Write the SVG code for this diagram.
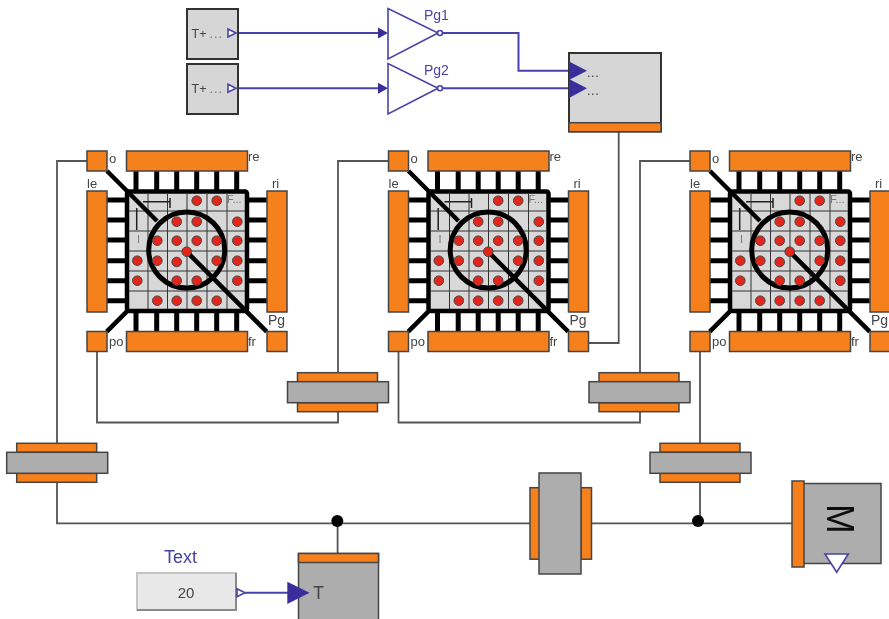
<svg xmlns="http://www.w3.org/2000/svg" width="889" height="619" viewBox="0 0 889 619">
<style>
text{font-family:"Liberation Sans",Arial,sans-serif}
.or{fill:#f5801e;stroke:#444;stroke-width:1.5}
.gr{fill:#adadad;stroke:#444;stroke-width:1.5}
.lg{fill:#d6d6d6;stroke:#333;stroke-width:2}
.pin{stroke:#000;stroke-width:5;fill:none}
.wire{fill:none;stroke:#555;stroke-width:1.8}
.sig{fill:none;stroke:#4a42a8;stroke-width:2}
.amp{fill:#fff;stroke:#4a42a8;stroke-width:1.6}
.solid{fill:#3a2f9a;stroke:none}
.port{fill:#fff;stroke:#4a42a8;stroke-width:1.6}
.lab{font-size:13px;fill:#444}
.blue{fill:#4a42a8}
.dk{fill:#444}
.dot{fill:#e3281f;stroke:#444;stroke-width:1;r:4.800px}
</style>
<defs>
<filter id="soft" x="0" y="0" width="100%" height="100%"><feGaussianBlur stdDeviation="0.45"/></filter>
<g id="chip">
<path class="pin" d="M136 171V191M156.700 171V191M176.700 171V191M196.700 171V191M216.700 171V191M236.700 171V191M136 312V332M156.700 312V332M176.700 312V332M196.700 312V332M216.700 312V332M236.700 312V332M107 200H127M107 220H127M107 240H127M107 260.700H127M107 280.700H127M107 300.700H127M247 200H267M247 220H267M247 240H267M247 260.700H267M247 280.700H267M247 300.700H267"/>
<rect x="127" y="191.500" width="120" height="119.500" rx="2" fill="#d8d8d8" stroke="#000" stroke-width="4.500"/>
<path d="M148 193V309M167.500 193V309M187 193V309M207 193V309M227 193V309M129 211H245M129 231H245M129 251H245M129 271H245M129 291H245" fill="none" stroke="#333" stroke-width="1"/>
<path d="M143 201.700H170M170 198V208M136.700 208V230" fill="none" stroke="#222" stroke-width="1.500"/>
<circle cx="186.700" cy="250" r="38" fill="none" stroke="#000" stroke-width="5"/>
<path d="M107 171L157 221M186.700 251.700L266.700 331.700M126.700 311.700L106.700 331.700" fill="none" stroke="#000" stroke-width="4.500"/>
<g class="dots">
<circle class="dot" cx="196.700" cy="200.700"/><circle class="dot" cx="216.700" cy="200.700"/>
<circle class="dot" cx="176.700" cy="221.700"/><circle class="dot" cx="196.700" cy="221.700"/><circle class="dot" cx="237.300" cy="221.700"/>
<circle class="dot" cx="157.300" cy="240.700"/><circle class="dot" cx="176.700" cy="240.700"/><circle class="dot" cx="196.700" cy="240.700"/><circle class="dot" cx="216.700" cy="240.700"/><circle class="dot" cx="237.300" cy="240.700"/>
<circle class="dot" cx="137.300" cy="260.700"/><circle class="dot" cx="157.300" cy="260.700"/><circle class="dot" cx="176.700" cy="262"/><circle class="dot" cx="216.700" cy="260.700"/><circle class="dot" cx="237.300" cy="260.700"/>
<circle class="dot" cx="137.300" cy="280.700"/><circle class="dot" cx="176.700" cy="280.700"/><circle class="dot" cx="196.700" cy="280.700"/><circle class="dot" cx="237.300" cy="280.700"/>
<circle class="dot" cx="157.300" cy="300.700"/><circle class="dot" cx="176.700" cy="300.700"/><circle class="dot" cx="196.700" cy="300.700"/><circle class="dot" cx="216.700" cy="300.700"/>
<circle class="dot" cx="186.700" cy="251.700"/>
</g>
<rect class="or" x="87" y="151" width="20" height="20"/>
<rect class="or" x="126.500" y="151" width="121" height="20"/>
<rect class="or" x="87" y="191" width="20" height="121"/>
<rect class="or" x="267" y="191" width="20" height="121"/>
<rect class="or" x="87" y="331.500" width="20" height="20"/>
<rect class="or" x="126.500" y="331.500" width="121" height="20"/>
<rect class="or" x="267" y="331.500" width="20" height="20"/>
</g>
<g id="coupling">
<rect class="or" x="10" y="0" width="80" height="9"/>
<rect class="or" x="10" y="30" width="80" height="9"/>
<rect class="gr" x="0" y="9" width="101" height="21"/>
</g>
</defs>
<g filter="url(#soft)">
<rect x="0" y="0" width="889" height="619" fill="#fff"/>
<g id="connectors">
<path class="wire" d="M87 161H57V523.300H792"/>
<path class="wire" d="M388.500 161H338V373M338 411.700V422.500H97V352"/>
<path class="wire" d="M690.500 161H640V373M640 411.700V422.500H398.500V352"/>
<path class="wire" d="M700 352V443M700 482V523"/>
<path class="wire" d="M337.600 521V553"/>
<path class="wire" d="M618.700 132V343H589"/>
<path class="sig" d="M236 33H380"/>
<path class="sig" d="M236 88.300H380"/>
<path class="sig" d="M441 33H518.500V70.700H572"/>
<path class="sig" d="M441 88.300H572"/>
<path class="sig" d="M245 592.700H290"/>
<path class="solid" d="M378 27.500L388 33L378 38.500Z"/>
<path class="solid" d="M378 82.800L388 88.300L378 93.800Z"/>
<circle cx="337.300" cy="521" r="6" fill="#000"/>
<circle cx="698" cy="521" r="6" fill="#000"/>
</g>

<g id="source1">
<rect class="lg" x="187" y="9" width="51" height="50"/>
<text x="191.500" y="38" font-size="12.500" class="dk">T+<tspan dx="3" letter-spacing="1" fill="#777">...</tspan></text>
<path class="port" d="M228 29L236 33L228 37Z"/>
</g>
<g id="source2">
<rect class="lg" x="187" y="64" width="51" height="50"/>
<text x="191.500" y="93" font-size="12.500" class="dk">T+<tspan dx="3" letter-spacing="1" fill="#777">...</tspan></text>
<path class="port" d="M228 84.300L236 88.300L228 92.300Z"/>
</g>
<g id="gain1">
<path class="amp" d="M388 8.500V59L438 33Z"/>
<circle class="port" cx="440" cy="33" r="2.500"/>
<text x="424" y="20" font-size="14" class="blue">Pg1</text>
</g>
<g id="gain2">
<path class="amp" d="M388 63.500V114L438 88.300Z"/>
<circle class="port" cx="440" cy="88.300" r="2.500"/>
<text x="424" y="75" font-size="14" class="blue">Pg2</text>
</g>
<g id="controller">
<rect class="lg" x="569" y="53" width="92" height="78.500"/>
<rect class="or" x="569" y="122.700" width="92" height="9"/>
<path class="solid" d="M569 61.500L587 70.700L569 80Z"/>
<path class="solid" d="M569 79L587 88.300L569 98Z"/>
<text x="587" y="77" font-size="13" letter-spacing="0.500" class="dk">...</text>
<text x="587" y="95" font-size="13" letter-spacing="0.500" class="dk">...</text>
</g>

<g id="module1">
<text class="lab" x="248" y="161">re</text><text class="lab" x="109" y="163">o</text><text class="lab" x="109" y="346">po</text><text class="lab" x="248" y="346">fr</text>
<use href="#chip"/>
<text class="lab" x="87" y="188">le</text><text class="lab" x="272" y="188">ri</text><text x="268" y="325" font-size="14" class="dk">Pg</text>
<text x="227" y="203" font-size="11" fill="#777">F...</text><text x="137" y="243" font-size="11" fill="#777">I</text>
</g>
<g id="module2" transform="translate(301.500 0)">
<text class="lab" x="248" y="161">re</text><text class="lab" x="109" y="163">o</text><text class="lab" x="109" y="346">po</text><text class="lab" x="248" y="346">fr</text>
<use href="#chip"/>
<text class="lab" x="87" y="188">le</text><text class="lab" x="272" y="188">ri</text><text x="268" y="325" font-size="14" class="dk">Pg</text>
<text x="227" y="203" font-size="11" fill="#777">F...</text><text x="137" y="243" font-size="11" fill="#777">I</text>
</g>
<g id="module3" transform="translate(603 0)">
<text class="lab" x="248" y="161">re</text><text class="lab" x="109" y="163">o</text><text class="lab" x="109" y="346">po</text><text class="lab" x="248" y="346">fr</text>
<use href="#chip"/>
<text class="lab" x="87" y="188">le</text><text class="lab" x="272" y="188">ri</text><text x="268" y="325" font-size="14" class="dk">Pg</text>
<text x="227" y="203" font-size="11" fill="#777">F...</text><text x="137" y="243" font-size="11" fill="#777">I</text>
</g>

<g id="coupling1"><use href="#coupling" x="6.700" y="443.300"/></g>
<g id="coupling2"><use href="#coupling" x="287.500" y="372.700"/></g>
<g id="coupling3"><use href="#coupling" x="589" y="372.700"/></g>
<g id="coupling4"><use href="#coupling" x="650" y="443.300"/></g>

<g id="gearbox">
<rect class="or" x="530" y="487.700" width="10.500" height="71.500"/>
<rect class="or" x="581" y="487.700" width="10.500" height="71.500"/>
<rect class="gr" x="539" y="473" width="42" height="101"/>
</g>
<g id="motor">
<rect class="gr" x="803" y="483.500" width="78" height="80"/>
<rect class="or" x="792" y="481" width="12" height="86"/>
<text transform="translate(827 518.800) rotate(90) scale(1.08 1.18)" text-anchor="middle" font-size="33" fill="#111">M</text>
<path class="amp" d="M825 554H848.300L836.700 572.300Z"/>
</g>
<g id="sensor">
<rect class="gr" x="298.500" y="553.500" width="80" height="70"/>
<rect class="or" x="298.500" y="553.500" width="80" height="9"/>
<path class="solid" d="M287.300 581.700L309.500 592.700L287.300 604Z"/>
<text x="313" y="599" font-size="18" fill="#444">T</text>
</g>
<g id="constant">
<rect x="137" y="573" width="99" height="37" fill="#e8e8e8" stroke="#c4c4c4" stroke-width="2"/>
<path d="M137 610H236V573" fill="none" stroke="#8a8a8a" stroke-width="2"/>
<text x="186" y="598" font-size="15" text-anchor="middle" fill="#444">20</text>
<text x="164" y="563" font-size="18" class="blue">Text</text>
<path class="port" d="M237 588.700L245 592.700L237 596.700Z"/>
</g>
</g>
</svg>
